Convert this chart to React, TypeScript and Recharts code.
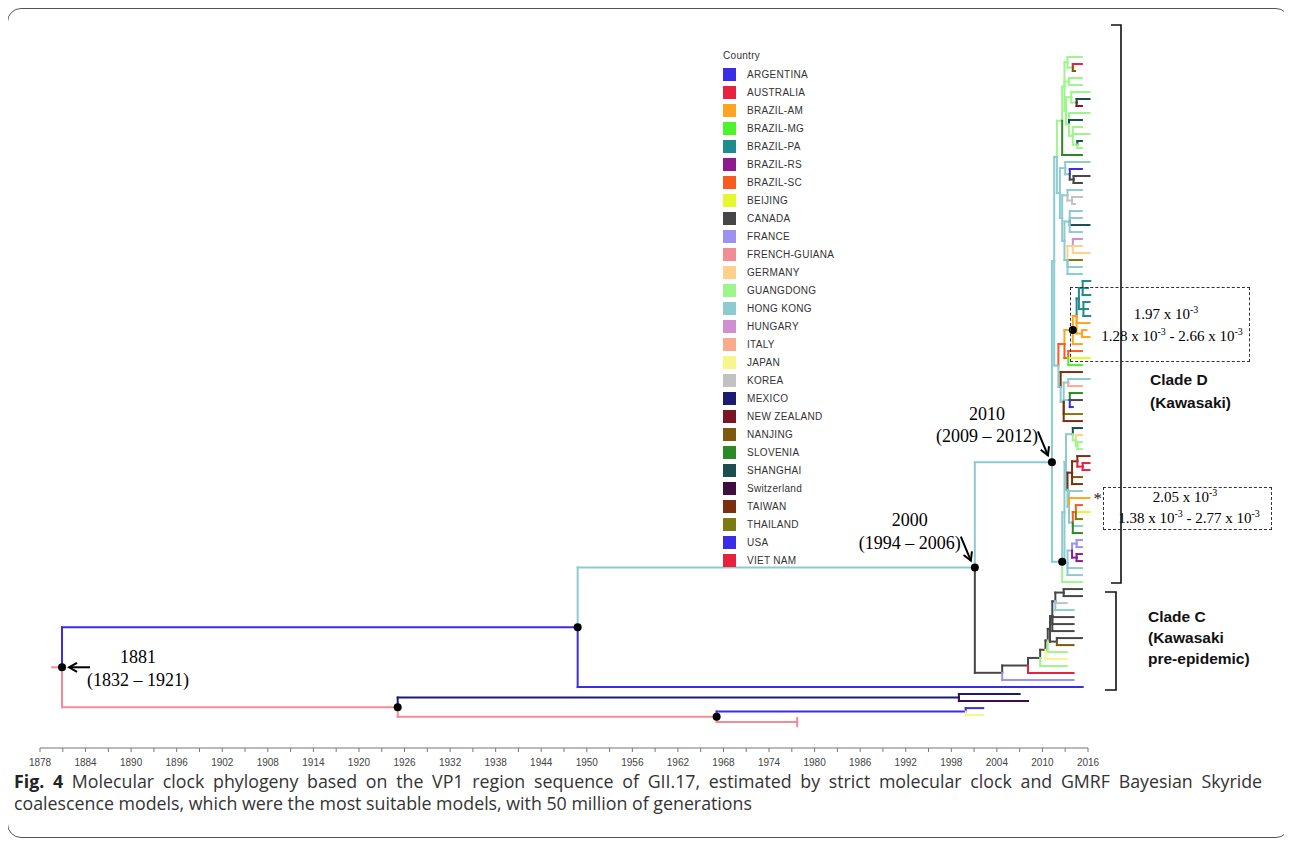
import React from "react";
import {
  ComposedChart,
  XAxis,
  YAxis,
  ReferenceLine,
  ReferenceDot,
  Scatter,
  Legend,
} from "recharts";

// [id, parent, year, country, fixed row (only where the picture shows it off-centre)]
type Branch = [string, string, number, string, number?];

const COUNTRIES: [string, string, string][] = [
  ["AR", "ARGENTINA", "#3b2de6"],
  ["AU", "AUSTRALIA", "#e8213f"],
  ["AM", "BRAZIL-AM", "#fda521"],
  ["MG", "BRAZIL-MG", "#4bf52a"],
  ["PA", "BRAZIL-PA", "#208b8e"],
  ["RS", "BRAZIL-RS", "#8e1b8e"],
  ["SC", "BRAZIL-SC", "#fb5a1f"],
  ["BJ", "BEIJING", "#e6f72b"],
  ["CA", "CANADA", "#474747"],
  ["FR", "FRANCE", "#9d92f2"],
  ["FG", "FRENCH-GUIANA", "#f28d98"],
  ["DE", "GERMANY", "#fdd08c"],
  ["GD", "GUANGDONG", "#9df68c"],
  ["HK", "HONG KONG", "#8dcbd0"],
  ["HU", "HUNGARY", "#d18fd1"],
  ["IT", "ITALY", "#fbab8d"],
  ["JP", "JAPAN", "#f6f68c"],
  ["KR", "KOREA", "#c2c2c2"],
  ["MX", "MEXICO", "#1d1a72"],
  ["NZ", "NEW ZEALAND", "#7a1727"],
  ["NJ", "NANJING", "#7b5a0e"],
  ["SL", "SLOVENIA", "#2b8a25"],
  ["SH", "SHANGHAI", "#194f4f"],
  ["SW", "Switzerland", "#3f0d3f"],
  ["TW", "TAIWAN", "#7a2f11"],
  ["TH", "THAILAND", "#7b7b11"],
  ["US", "USA", "#3b2de6"],
  ["VN", "VIET NAM", "#e8213f"],
];

const TICK_YEARS = [
  1878, 1881, 1884, 1887, 1890, 1893, 1896, 1899, 1902, 1905, 1908, 1911, 1914, 1917, 1920, 1923,
  1926, 1929, 1932, 1935, 1938, 1941, 1944, 1947, 1950, 1953, 1956, 1959, 1962, 1965, 1968, 1971,
  1974, 1977, 1980, 1983, 1986, 1989, 1992, 1995, 1998, 2001, 2004, 2007, 2010, 2013, 2016,
];
const LABEL_YEARS = [
  1878, 1884, 1890, 1896, 1902, 1908, 1914, 1920, 1926, 1932, 1938, 1944, 1950, 1956, 1962, 1968,
  1974, 1980, 1986, 1992, 1998, 2004, 2010, 2016,
];

const ROOT_STUB_START = 1879.6;

const BASAL: Branch[] = [
  ["root", "", 1880.9, "FG"],
  ["n1948", "root", 1948.8, "US"],
  ["n2000", "n1948", 2001.1, "HK"],
  ["t90", "n1948", 2015.3, "US"],
  ["n1925", "root", 1925.1, "FG"],
  ["mxN", "n1925", 1999.0, "MX"],
  ["t91", "mxN", 2007.0, "MX"],
  ["t92", "mxN", 2008.1, "SW"],
  ["n1967", "n1925", 1967.1, "FG"],
  ["arN", "n1967", 1999.9, "AR"],
  ["t93", "arN", 2002.2, "AR"],
  ["t94", "arN", 2002.2, "JP"],
  ["t95", "n1967", 1977.7, "FG"],
];

const CLADE_D: Branch[] = [
  ["n2010", "n2000", 2011.25, "HK", 57.9],
  ["dU", "n2010", 2011.55, "HK"],
  ["dUa", "dU", 2011.9, "HK"],
  ["gS", "dUa", 2012.6, "GD"],
  ["gg", "gS", 2012.9, "GD"],
  ["g1", "gg", 2013.3, "GD"],
  ["d0", "g1", 2015.2, "GD"],
  ["g1b", "g1", 2014.0, "GD"],
  ["d1", "g1b", 2015.2, "VN"],
  ["d2", "g1b", 2014.3, "NJ"],
  ["g2", "gg", 2013.5, "GD"],
  ["d3", "g2", 2015.2, "GD"],
  ["d4", "g2", 2015.2, "GD"],
  ["g3", "gg", 2013.1, "GD"],
  ["g3a", "g3", 2013.8, "GD"],
  ["d5", "g3a", 2016.2, "GD"],
  ["g3c", "g3a", 2014.5, "GD"],
  ["d6", "g3c", 2016.2, "SH"],
  ["d7", "g3c", 2015.2, "NZ"],
  ["g3b", "g3", 2013.5, "GD"],
  ["d8", "g3b", 2016.2, "GD"],
  ["d9", "g3b", 2015.2, "SH"],
  ["g3d", "g3b", 2014.0, "GD"],
  ["d10", "g3d", 2015.2, "GD"],
  ["d11", "g3d", 2016.2, "GD"],
  ["g3e", "g3d", 2014.6, "GD"],
  ["d12", "g3e", 2015.2, "SH"],
  ["d13", "g3e", 2015.2, "GD"],
  ["d14", "gS", 2015.2, "SL"],
  ["hk1", "dUa", 2012.3, "HK"],
  ["hkA", "hk1", 2013.0, "HK"],
  ["d15", "hkA", 2016.2, "HK"],
  ["hkA1", "hkA", 2013.6, "HK"],
  ["d16", "hkA1", 2015.2, "US"],
  ["hkA2", "hkA1", 2014.1, "CA"],
  ["d17", "hkA2", 2016.2, "CA"],
  ["d18", "hkA2", 2015.2, "CA"],
  ["hkB", "hk1", 2012.6, "HK"],
  ["hkB1", "hkB", 2013.3, "HK"],
  ["d19", "hkB1", 2015.2, "HK"],
  ["krN", "hkB1", 2013.9, "KR"],
  ["d20", "krN", 2015.2, "KR"],
  ["d21", "krN", 2014.3, "KR"],
  ["hkB2", "hkB", 2012.9, "HK"],
  ["hkB3", "hkB2", 2013.6, "HK"],
  ["d22", "hkB3", 2015.2, "HK"],
  ["d23", "hkB3", 2015.2, "HK"],
  ["d24", "hkB3", 2016.2, "SH"],
  ["d25", "hkB3", 2015.2, "HK"],
  ["hkB4", "hkB2", 2013.3, "HK"],
  ["deN", "hkB4", 2014.0, "DE"],
  ["d26", "deN", 2015.2, "HU"],
  ["d27", "deN", 2015.2, "DE"],
  ["d28", "deN", 2016.2, "DE"],
  ["d29", "hkB4", 2015.2, "TH"],
  ["d30", "hkB4", 2015.2, "HK"],
  ["d31", "hkB4", 2015.2, "HK"],
  ["dUb", "dU", 2012.1, "HK"],
  ["pamP", "dUb", 2012.9, "SC"],
  ["pam", "pamP", 2014.0, "AM"],
  ["pamX", "pam", 2014.5, "AM"],
  ["pa", "pamX", 2014.8, "PA"],
  ["pa1", "pa", 2015.3, "PA"],
  ["d32", "pa1", 2016.3, "PA"],
  ["d33", "pa1", 2016.0, "PA"],
  ["d34", "pa1", 2016.3, "PA"],
  ["pa2", "pa", 2015.4, "PA"],
  ["d35", "pa2", 2016.2, "PA"],
  ["d36", "pa2", 2016.0, "PA"],
  ["d37", "pa2", 2016.3, "PA"],
  ["d38", "pamX", 2016.2, "AM"],
  ["amN", "pamX", 2015.2, "AM"],
  ["d39", "amN", 2015.8, "AM"],
  ["d40", "amN", 2016.2, "AM"],
  ["d41", "pam", 2015.2, "AM"],
  ["scG", "pamP", 2013.4, "SC"],
  ["d42", "scG", 2015.2, "SC"],
  ["d43", "scG", 2016.2, "BJ"],
  ["d44", "scG", 2015.2, "MG"],
  ["mixA", "dUb", 2012.4, "HK"],
  ["d45", "mixA", 2015.2, "TW"],
  ["mixB", "mixA", 2012.8, "HK"],
  ["mixC", "mixB", 2013.4, "HK"],
  ["d46", "mixC", 2016.2, "HK"],
  ["d47", "mixC", 2015.2, "IT"],
  ["mixD", "mixB", 2013.6, "HK"],
  ["d48", "mixD", 2015.2, "SL"],
  ["d49", "mixD", 2015.2, "CA"],
  ["d50", "mixD", 2014.0, "US"],
  ["d51", "mixB", 2015.2, "TH"],
  ["d52", "mixB", 2015.2, "TW"],
  ["dL", "n2010", 2012.6, "HK", 72.1],
  ["dLa", "dL", 2012.9, "HK"],
  ["dLb", "dLa", 2013.1, "HK"],
  ["dLc", "dLb", 2014.0, "HK"],
  ["d53", "dLc", 2015.2, "SH"],
  ["dLc1", "dLc", 2014.4, "GD"],
  ["d54", "dLc1", 2015.2, "DE"],
  ["dLc2", "dLc1", 2014.6, "GD"],
  ["d55", "dLc2", 2015.2, "GD"],
  ["d56", "dLc2", 2015.2, "GD"],
  ["dLd", "dLb", 2013.3, "HK"],
  ["twG", "dLd", 2013.9, "TW"],
  ["twG1", "twG", 2014.6, "TW"],
  ["d57", "twG1", 2016.2, "TW"],
  ["vnN", "twG1", 2015.3, "VN"],
  ["d58", "vnN", 2016.2, "VN"],
  ["d59", "vnN", 2016.2, "VN"],
  ["d60", "twG", 2015.2, "NJ"],
  ["d61", "twG", 2015.2, "TW"],
  ["dLe", "dLd", 2013.5, "HK"],
  ["d62", "dLe", 2015.2, "HK"],
  ["d63", "dLe", 2016.2, "AM"],
  ["dLf", "dLe", 2014.0, "HK"],
  ["scN", "dLf", 2014.4, "SC"],
  ["d64", "scN", 2015.2, "SC"],
  ["d65", "scN", 2016.2, "BJ"],
  ["d66", "scN", 2015.2, "TH"],
  ["d67", "dLf", 2015.2, "HK"],
  ["d68", "dLf", 2015.2, "SL"],
  ["dLq", "dLa", 2013.3, "HK"],
  ["dLp", "dLq", 2013.9, "HK"],
  ["frN", "dLp", 2014.5, "FR"],
  ["d69", "frN", 2015.2, "FR"],
  ["d70", "frN", 2015.2, "FR"],
  ["rsN", "dLp", 2014.5, "RS"],
  ["d71", "rsN", 2015.2, "RS"],
  ["d72", "rsN", 2015.2, "RS"],
  ["d73", "dLq", 2015.2, "HK"],
  ["d74", "dLq", 2015.2, "HK"],
  ["d75", "dL", 2015.2, "GD"],
];

const CLADE_C: Branch[] = [
  ["c0", "n2000", 2004.7, "CA"],
  ["c1", "c0", 2008.1, "CA"],
  ["c2", "c1", 2009.7, "CA"],
  ["c3", "c2", 2010.4, "CA"],
  ["c4", "c3", 2010.7, "CA"],
  ["c5", "c4", 2011.0, "CA"],
  ["c6", "c5", 2011.3, "CA"],
  ["c7", "c6", 2011.7, "CA"],
  ["c8", "c7", 2012.8, "CA"],
  ["c76", "c8", 2015.2, "CA"],
  ["c77", "c8", 2015.2, "CA"],
  ["c78", "c7", 2013.2, "KR"],
  ["c79", "c7", 2014.1, "HK"],
  ["c80", "c6", 2014.1, "CA"],
  ["c81", "c6", 2014.1, "CA"],
  ["c82", "c6", 2014.1, "CA"],
  ["c5b", "c5", 2011.9, "CA"],
  ["c83", "c5b", 2015.2, "CA"],
  ["c84", "c5b", 2014.1, "NJ"],
  ["c85", "c4", 2013.2, "GD"],
  ["c86", "c3", 2013.2, "JP"],
  ["c87", "c2", 2013.2, "GD"],
  ["c88", "c1", 2014.1, "AU"],
  ["c89", "c0", 2014.1, "FR"],
];

const MARKED_NODES = ["root", "n1948", "n1925", "n1967", "n2000", "n2010", "pam", "dL"];
const NODE_NOTES: [string, string, string][] = [
  ["root", "1881", "(1832 – 1921)"],
  ["n2000", "2000", "(1994 – 2006)"],
  ["n2010", "2010", "(2009 – 2012)"],
];
const TIP_CAPS = ["t95"];
const STAR_TIP = "d63";

// ---- layout: tips get consecutive rows, nodes sit midway between first and last child
const COLOR: Record<string, string> = Object.fromEntries(COUNTRIES.map(([c, , col]) => [c, col]));
const ROWS: Branch[] = [...BASAL, ...CLADE_D, ...CLADE_C];
const byId = new Map(ROWS.map((r) => [r[0], r] as [string, Branch]));
const kids = new Map<string, string[]>();
ROWS.forEach((r) => {
  if (!r[1]) return;
  if (!kids.has(r[1])) kids.set(r[1], []);
  kids.get(r[1])!.push(r[0]);
});
const rowOf = new Map<string, number>();
let nextTip = 0;
function place(id: string): number {
  const ch = kids.get(id);
  let y: number;
  if (!ch) y = nextTip++;
  else {
    const ys = ch.map(place);
    const fixed = byId.get(id)![4];
    y = fixed ?? (ys[0] + ys[ys.length - 1]) / 2;
  }
  rowOf.set(id, y);
  return y;
}
place("root");

type Seg = { key: string; x1: number; y1: number; x2: number; y2: number; color: string };
const SEGMENTS: Seg[] = [];
ROWS.forEach(([id, parent, year, code]) => {
  const color = COLOR[code];
  const y = rowOf.get(id)!;
  if (!parent) {
    SEGMENTS.push({ key: id + "-stub", x1: ROOT_STUB_START, y1: y, x2: year, y2: y, color });
    return;
  }
  const px = byId.get(parent)![2];
  const py = rowOf.get(parent)!;
  SEGMENTS.push({ key: id + "-v", x1: px, y1: py, x2: px, y2: y, color });
  SEGMENTS.push({ key: id + "-h", x1: px, y1: y, x2: year, y2: y, color });
});
TIP_CAPS.forEach((id) => {
  const r = byId.get(id)!;
  const y = rowOf.get(id)!;
  SEGMENTS.push({ key: id + "-cap", x1: r[2], y1: y - 0.6, x2: r[2], y2: y + 0.6, color: COLOR[r[3]] });
});

const DOT_DATA = MARKED_NODES.map((id) => ({ id, x: byId.get(id)![2], y: rowOf.get(id)! }));

// pixel offsets of the date notes around their node
const NOTE_LAYOUT: Record<string, { t1: [number, number]; t2: [number, number]; arrow: [number, number, number, number] }> = {
  root: { t1: [76, -10], t2: [76, 13], arrow: [28, 0, 7, 0] },
  n2000: { t1: [-65, -48], t2: [-65, -25], arrow: [-14, -31, -4, -7] },
  n2010: { t1: [-65, -48], t2: [-65, -26], arrow: [-14, -31, -4, -7] },
};

function Arrow({ x1, y1, x2, y2 }: { x1: number; y1: number; x2: number; y2: number }) {
  const a = Math.atan2(y2 - y1, x2 - x1);
  const L = 8;
  const W = 4.5;
  const bx = x2 - L * Math.cos(a);
  const by = y2 - L * Math.sin(a);
  const px = -Math.sin(a) * W;
  const py = Math.cos(a) * W;
  return (
    <g stroke="#000" strokeWidth={2} fill="none">
      <line x1={x1} y1={y1} x2={x2} y2={y2} />
      <polyline points={`${bx + px},${by + py} ${x2},${y2} ${bx - px},${by - py}`} />
    </g>
  );
}

function NodeMark(props: any) {
  const { cx, cy, payload } = props;
  const note = NODE_NOTES.find((n) => n[0] === payload.id);
  const lay = NOTE_LAYOUT[payload.id];
  return (
    <g>
      <circle cx={cx} cy={cy} r={4} fill="#000" />
      {note && lay && (
        <g fontFamily="'Liberation Serif', 'Times New Roman', serif" fontSize={18} fill="#000">
          <text x={cx + lay.t1[0]} y={cy + lay.t1[1]} textAnchor="middle" dominantBaseline="central">
            {note[1]}
          </text>
          <text x={cx + lay.t2[0]} y={cy + lay.t2[1]} textAnchor="middle" dominantBaseline="central">
            {note[2]}
          </text>
          <Arrow x1={cx + lay.arrow[0]} y1={cy + lay.arrow[1]} x2={cx + lay.arrow[2]} y2={cy + lay.arrow[3]} />
        </g>
      )}
    </g>
  );
}

function CountryLegend() {
  return (
    <div style={{ fontFamily: "'Liberation Sans', Arial, sans-serif", fontSize: 10, color: "#333" }}>
      <div style={{ height: 18, lineHeight: "18px", letterSpacing: 0.3 }}>Country</div>
      {COUNTRIES.map(([code, name, color]) => (
        <div key={code} style={{ display: "flex", alignItems: "center", height: 18, letterSpacing: 0.3 }}>
          <span style={{ width: 13, height: 13, background: color, marginRight: 11, display: "inline-block" }} />
          <span>{name}</span>
        </div>
      ))}
    </div>
  );
}

const serif = "'Liberation Serif', 'Times New Roman', serif";
const sans = "'Liberation Sans', Arial, sans-serif";
const sup = (s: string) => <sup style={{ fontSize: 10, lineHeight: 0 }}>{s}</sup>;

export default function App() {
  const star = byId.get(STAR_TIP)!;
  return (
    <div style={{ position: "relative", width: 1276, height: 830 }}>
      <div
        style={{
          position: "absolute",
          left: -1,
          top: 0,
          width: 1283,
          height: 830,
          border: "1.5px solid #555",
          borderRadius: 14,
          boxSizing: "border-box",
        }}
      />
      <ComposedChart width={1276} height={775} margin={{ top: 14, right: 196, bottom: 5, left: 32 }}>
        <XAxis
          type="number"
          dataKey="x"
          domain={[1878, 2016]}
          allowDataOverflow
          ticks={TICK_YEARS}
          interval={0}
          tickFormatter={(v: number) => (LABEL_YEARS.includes(v) ? String(v) : "")}
          tickSize={4}
          tickMargin={7}
          height={30}
          tick={{ fontSize: 10, fill: "#444", fontFamily: sans }}
          axisLine={{ stroke: "#777", strokeWidth: 1.2 }}
          tickLine={{ stroke: "#777" }}
        />
        <YAxis type="number" dataKey="y" domain={[-5, 98.7]} allowDataOverflow reversed hide />
        <Legend
          layout="vertical"
          align="center"
          verticalAlign="middle"
          content={() => <CountryLegend />}
          wrapperStyle={{ left: 715, top: 39, width: 140 }}
        />
        {SEGMENTS.map((s) => (
          <ReferenceLine
            key={s.key}
            segment={[
              { x: s.x1, y: s.y1 },
              { x: s.x2, y: s.y2 },
            ]}
            stroke={s.color}
            strokeWidth={2}
            strokeLinecap="square"
            ifOverflow="visible"
          />
        ))}
        <Scatter data={DOT_DATA} isAnimationActive={false} shape={(p: any) => <NodeMark {...p} />} />
        <ReferenceDot
          x={star[2]}
          y={rowOf.get(STAR_TIP)!}
          r={0}
          ifOverflow="visible"
          label={{ value: "*", position: "right", offset: 4, fontSize: 17, fontFamily: serif, fill: "#222" }}
        />
      </ComposedChart>

      <div style={{ position: "absolute", left: -8, top: -8, width: 1292, height: 841, pointerEvents: "none" }}>
        <svg width={1292} height={841} style={{ position: "absolute", left: 0, top: 0 }}>
          <path d="M1111 25 H1121 V583 H1111" stroke="#111" strokeWidth={1.6} fill="none" />
          <path d="M1105 592 H1116 V690 H1105" stroke="#111" strokeWidth={1.6} fill="none" />
        </svg>

        <div
          style={{
            position: "absolute",
            left: 1070,
            top: 287,
            width: 180,
            height: 75,
            border: "1px dashed #333",
            boxSizing: "border-box",
          }}
        />
        <div style={{ position: "absolute", left: 1086, top: 303, width: 160, textAlign: "center", fontFamily: serif, fontSize: 15, lineHeight: "22px" }}>
          1.97 x 10{sup("-3")}
        </div>
        <div style={{ position: "absolute", left: 1082, top: 325, width: 180, textAlign: "center", fontFamily: serif, fontSize: 15, lineHeight: "22px" }}>
          1.28 x 10{sup("-3")} - 2.66 x 10{sup("-3")}
        </div>

        <div
          style={{
            position: "absolute",
            left: 1103,
            top: 487,
            width: 169,
            height: 43,
            border: "1px dashed #333",
            boxSizing: "border-box",
          }}
        />
        <div style={{ position: "absolute", left: 1105, top: 486, width: 160, textAlign: "center", fontFamily: serif, fontSize: 15, lineHeight: "22px" }}>
          2.05 x 10{sup("-3")}
        </div>
        <div style={{ position: "absolute", left: 1099, top: 507, width: 180, textAlign: "center", fontFamily: serif, fontSize: 15, lineHeight: "22px" }}>
          1.38 x 10{sup("-3")} - 2.77 x 10{sup("-3")}
        </div>

        <div style={{ position: "absolute", left: 1150, top: 368, fontFamily: sans, fontWeight: 700, fontSize: 15.5, lineHeight: "23px", color: "#111" }}>
          Clade D
          <br />
          (Kawasaki)
        </div>
        <div style={{ position: "absolute", left: 1148, top: 606, fontFamily: sans, fontWeight: 700, fontSize: 15.5, lineHeight: "21px", color: "#111" }}>
          Clade C
          <br />
          (Kawasaki
          <br />
          pre-epidemic)
        </div>

        <div
          style={{
            position: "absolute",
            left: 14,
            top: 770,
            width: 1248,
            fontFamily: "'Open Sans', 'Noto Sans', sans-serif",
            fontSize: 17.8,
            lineHeight: "22px",
            color: "#333",
          }}
        >
          <div style={{ height: 22, textAlign: "justify", textAlignLast: "justify", whiteSpace: "normal" }}>
            <b style={{ color: "#222" }}>Fig. 4</b> Molecular clock phylogeny based on the VP1 region sequence of GII.17, estimated by strict molecular clock and GMRF Bayesian Skyride
          </div>
          <div style={{ height: 22, whiteSpace: "nowrap" }}>
            coalescence models, which were the most suitable models, with 50 million of generations
          </div>
        </div>
      </div>
    </div>
  );
}
